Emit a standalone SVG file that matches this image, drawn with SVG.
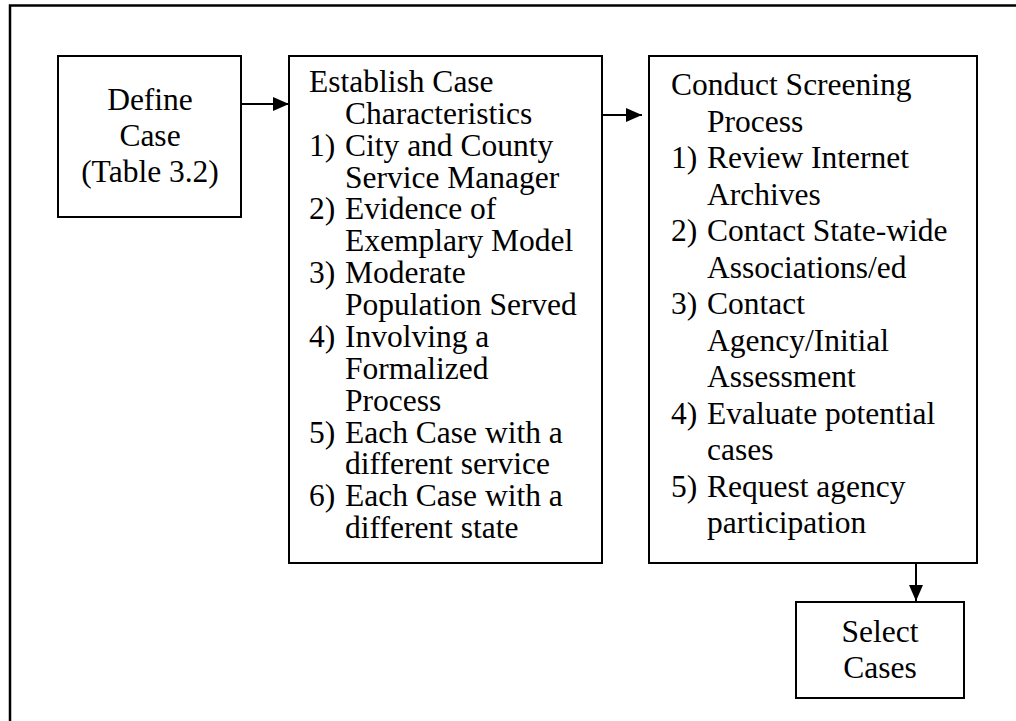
<svg xmlns="http://www.w3.org/2000/svg" width="1016" height="721" viewBox="0 0 1016 721">
<style>
.box{fill:#fff;stroke:#000;stroke-width:2}
.t{font-family:"Liberation Serif","Times New Roman",serif;font-size:31.5px;fill:#000}
.c{text-anchor:middle}
.e{stroke:#000;stroke-width:2;fill:none}
</style>
<defs>
<marker id="ah" markerUnits="userSpaceOnUse" markerWidth="16" markerHeight="14" refX="16" refY="7" orient="auto">
<path d="M0,0 L16,7 L0,14 Z" fill="#000"/>
</marker>
</defs>
<rect width="1016" height="721" fill="#fff"/>
<path d="M10,721 V5.5 H1016" fill="none" stroke="#000" stroke-width="2.5"/>
<g id="connectors">
<line class="e" x1="241" y1="104" x2="289" y2="104" marker-end="url(#ah)"/>
<line class="e" x1="602" y1="115" x2="642" y2="115" marker-end="url(#ah)"/>
<line class="e" x1="916" y1="563" x2="916" y2="601" marker-end="url(#ah)"/>
</g>
<g id="define-case">
<rect class="box" x="58" y="56" width="183" height="161"/>
<text class="t c" x="150" y="110">Define</text>
<text class="t c" x="150" y="146">Case</text>
<text class="t c" x="150" y="182">(Table 3.2)</text>
</g>
<g id="establish">
<rect class="box" x="289" y="56" width="313" height="507"/>
<g class="t">
<text x="309" y="92">Establish Case</text>
<text x="345" y="124">Characteristics</text>
<text x="309" y="156">1)</text><text x="345" y="156">City and County</text>
<text x="345" y="188">Service Manager</text>
<text x="309" y="219">2)</text><text x="345" y="219">Evidence of</text>
<text x="345" y="251">Exemplary Model</text>
<text x="309" y="283">3)</text><text x="345" y="283">Moderate</text>
<text x="345" y="315">Population Served</text>
<text x="309" y="347">4)</text><text x="345" y="347">Involving a</text>
<text x="345" y="379">Formalized</text>
<text x="345" y="411">Process</text>
<text x="309" y="443">5)</text><text x="345" y="443">Each Case with a</text>
<text x="345" y="474">different service</text>
<text x="309" y="506">6)</text><text x="345" y="506">Each Case with a</text>
<text x="345" y="538">different state</text>
</g>
</g>
<g id="screening">
<rect class="box" x="649" y="56" width="328" height="507"/>
<g class="t">
<text x="671" y="95">Conduct Screening</text>
<text x="707" y="132">Process</text>
<text x="671" y="168">1)</text><text x="707" y="168">Review Internet</text>
<text x="707" y="205">Archives</text>
<text x="671" y="241">2)</text><text x="707" y="241">Contact State-wide</text>
<text x="707" y="278">Associations/ed</text>
<text x="671" y="314">3)</text><text x="707" y="314">Contact</text>
<text x="707" y="351">Agency/Initial</text>
<text x="707" y="387">Assessment</text>
<text x="671" y="424">4)</text><text x="707" y="424">Evaluate potential</text>
<text x="707" y="460">cases</text>
<text x="671" y="497">5)</text><text x="707" y="497">Request agency</text>
<text x="707" y="533">participation</text>
</g>
</g>
<g id="select-cases">
<rect class="box" x="796" y="602" width="168" height="96"/>
<text class="t c" x="880" y="642">Select</text>
<text class="t c" x="880" y="678">Cases</text>
</g>
</svg>
